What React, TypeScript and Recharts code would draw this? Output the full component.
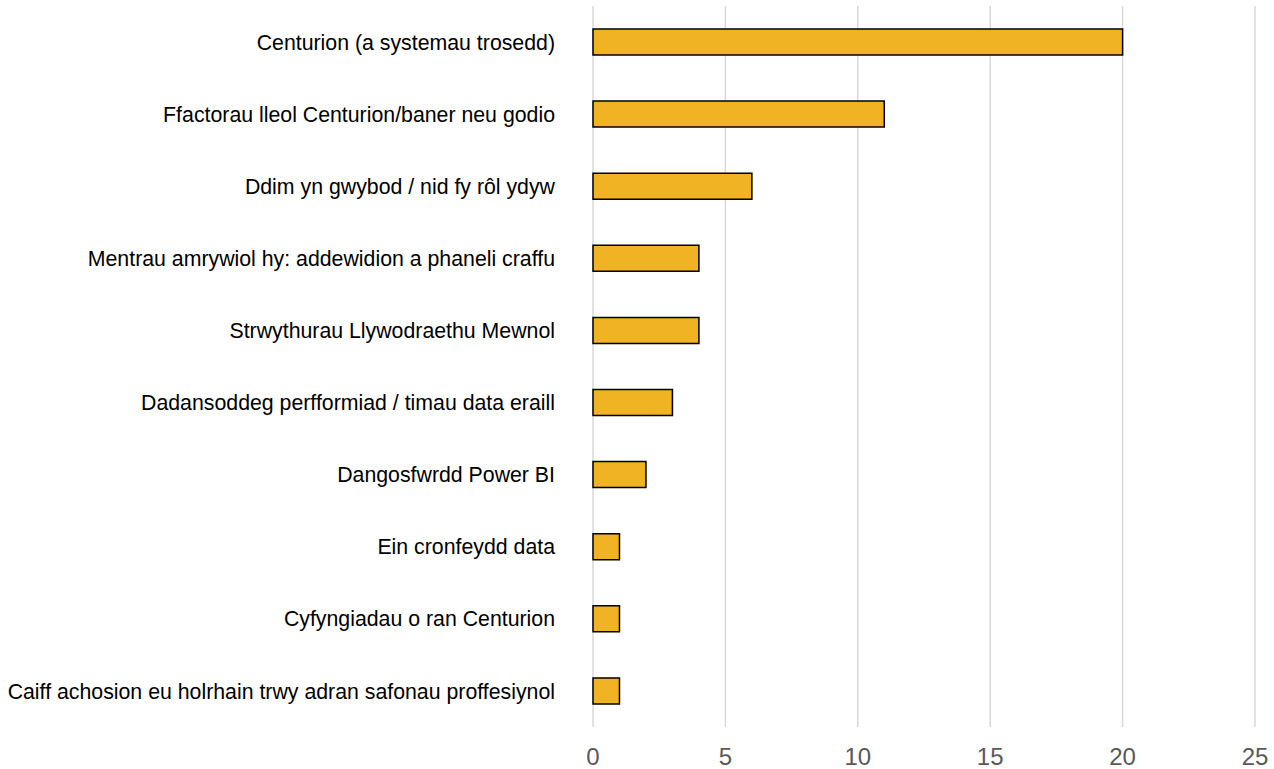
import React from "react";
import { BarChart, Bar, XAxis, YAxis, CartesianGrid } from "recharts";

const categories = [
  "Centurion (a systemau trosedd)",
  "Ffactorau lleol Centurion/baner neu godio",
  "Ddim yn gwybod / nid fy rôl ydyw",
  "Mentrau amrywiol hy: addewidion a phaneli craffu",
  "Strwythurau Llywodraethu Mewnol",
  "Dadansoddeg perfformiad / timau data eraill",
  "Dangosfwrdd Power BI",
  "Ein cronfeydd data",
  "Cyfyngiadau o ran Centurion",
  "Caiff achosion eu holrhain trwy adran safonau proffesiynol",
];
const values = [20, 11, 6, 4, 4, 3, 2, 1, 1, 1];
const xTicks = [0, 5, 10, 15, 20, 25];

const data = categories.map((c, i) => ({ name: c, value: values[i] }));

export default function App() {
  return (
    <div style={{ position: "absolute", left: 0, top: 0, width: 1274, height: 769, background: "#fff" }}>
      <BarChart
        width={1274}
        height={769}
        data={data}
        layout="vertical"
        margin={{ top: 6, right: 19, bottom: 0, left: 0 }}
        barCategoryGap={0}
        style={{ overflow: "visible" }}
      >
        <CartesianGrid horizontal={false} vertical={true} stroke="#d9d9d9" strokeWidth={1.5} />
        <XAxis
          type="number"
          domain={[0, 25]}
          ticks={xTicks}
          axisLine={false}
          tickLine={false}
          tickSize={0}
          tickMargin={21}
          height={42}
          tick={{ fill: "#595959", fontSize: 24, fontFamily: "Liberation Sans, Arial, sans-serif" }}
        />
        <YAxis
          type="category"
          dataKey="name"
          width={593}
          axisLine={false}
          tickLine={false}
          tickSize={0}
          tickMargin={38}
          interval={0}
          tick={{ fill: "#000", fontSize: 21.3, fontFamily: "Liberation Sans, Arial, sans-serif" }}
        />
        <Bar
          dataKey="value"
          fill="#F0B323"
          stroke="#000"
          strokeWidth={1.5}
          barSize={26}
          isAnimationActive={false}
        />
      </BarChart>
    </div>
  );
}
